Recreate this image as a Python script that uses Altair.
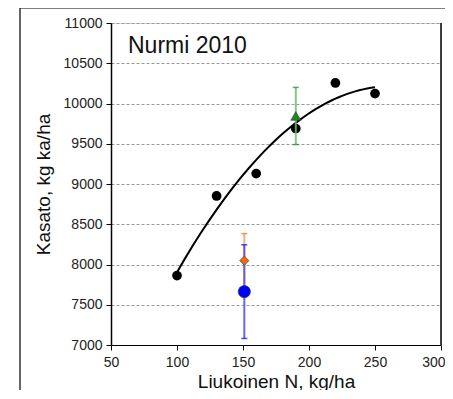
import altair as alt
import pandas as pd

# Main series (black dots)
n_rates = [100, 130, 160, 190, 220, 250]
yields = [7862, 8851, 9129, 9688, 10255, 10123]

# Single treatments with error bars
trt_names = ["green", "orange", "blue"]
trt_x = [190, 151, 151]
trt_y = [9845, 8048, 7663]
trt_err = [355, 336, 582]
trt_fill = ["#1a8a1a", "#f06a10", "#0000ff"]
trt_bar = ["#74bb74", "#f7a060", "#4a4aff"]
trt_shape = ["triangle-up", "diamond", "circle"]
trt_size = [100, 85, 150]

x_ticks = [50, 100, 150, 200, 250, 300]
y_ticks = [7000, 7500, 8000, 8500, 9000, 9500, 10000, 10500, 11000]

W, H = 330, 322

dots = pd.DataFrame({"x": n_rates, "y": yields})
trt = pd.DataFrame({
    "name": trt_names, "x": trt_x, "y": trt_y,
    "lo": [y - e for y, e in zip(trt_y, trt_err)],
    "hi": [y + e for y, e in zip(trt_y, trt_err)],
    "fill": trt_fill, "bar": trt_bar, "shape": trt_shape, "size": trt_size,
})

xs = alt.Scale(domain=[50, 300], nice=False, zero=False)
ys = alt.Scale(domain=[7000, 11000], nice=False, zero=False)

xenc = alt.X("x:Q", scale=xs, axis=alt.Axis(
    values=x_ticks, title="Liukoinen N, kg/ha", grid=False, format="d",
    labelFont="Liberation Sans", labelFontSize=14, labelColor="#222",
    labelAlign=alt.ExprRef(expr="datum.value >= 300 ? 'right' : 'center'"),
    labelOffset=alt.ExprRef(expr="datum.value >= 300 ? 4 : 0"),
    titleFont="Liberation Sans", titleFontSize=19, titleFontWeight="normal",
    titleColor="#111", titleBaseline="alphabetic", titleY=42, labelPadding=5,
    domainColor="#000", tickColor="#000", tickSize=5, labelFlush=False))
yenc = alt.Y("y:Q", scale=ys, axis=alt.Axis(
    values=y_ticks, title="Kasato, kg ka/ha", grid=True, format="d",
    gridColor="#999", gridDash=[3, 2], gridWidth=1,
    labelFont="Liberation Sans", labelFontSize=14, labelColor="#222",
    titleFont="Liberation Sans", titleFontSize=19, titleFontWeight="normal",
    titleColor="#111", titlePadding=10, labelPadding=4,
    domainColor="#000", domainWidth=1.5, tickColor="#000", tickSize=5))

base_dots = alt.Chart(dots)

curve = base_dots.transform_regression(
    "x", "y", method="poly", order=2, extent=[100, 250]
).mark_line(color="#000", strokeWidth=2).encode(x=xenc, y=yenc)

points = base_dots.mark_point(filled=True, color="#000", size=95, opacity=1).encode(
    x=alt.X("x:Q", scale=xs), y=alt.Y("y:Q", scale=ys))

tb = alt.Chart(trt)
bars = tb.mark_rule(strokeWidth=2, opacity=0.85).encode(
    x=alt.X("x:Q", scale=xs), y=alt.Y("lo:Q", scale=ys), y2="hi:Q",
    color=alt.Color("bar:N", scale=None))
caps_hi = tb.mark_tick(orient="horizontal", size=6, thickness=1.5).encode(
    x=alt.X("x:Q", scale=xs), y=alt.Y("hi:Q", scale=ys),
    color=alt.Color("fill:N", scale=None))
caps_lo = tb.mark_tick(orient="horizontal", size=6, thickness=1.5).encode(
    x=alt.X("x:Q", scale=xs), y=alt.Y("lo:Q", scale=ys),
    color=alt.Color("fill:N", scale=None))
markers = tb.mark_point(filled=True, opacity=1, stroke="#333", strokeWidth=0.6).encode(
    x=alt.X("x:Q", scale=xs), y=alt.Y("y:Q", scale=ys),
    fill=alt.Fill("fill:N", scale=None),
    shape=alt.Shape("shape:N", scale=None),
    size=alt.Size("size:Q", scale=None))

ann = alt.Chart(pd.DataFrame({"t": ["Nurmi 2010"]})).mark_text(
    font="Liberation Sans", fontSize=23, align="left", baseline="alphabetic",
    color="#111").encode(text="t:N", x=alt.value(17), y=alt.value(30))

right_border = alt.Chart(pd.DataFrame({"t": [0]})).mark_rule(
    color="#000", strokeWidth=1.5).encode(
    x=alt.value(W), y=alt.value(0), y2=alt.value(H))

frame_top = alt.Chart(pd.DataFrame({"t": [0]})).mark_rule(
    color="#000", strokeWidth=1.2).encode(
    x=alt.value(-91), x2=alt.value(345), y=alt.value(-15))
frame_left = alt.Chart(pd.DataFrame({"t": [0]})).mark_rule(
    color="#000", strokeWidth=1.2).encode(
    x=alt.value(-91), y=alt.value(-15), y2=alt.value(380))

chart = alt.layer(
    curve, points, bars, caps_hi, caps_lo, markers, ann,
    right_border, frame_top, frame_left
).properties(
    width=W, height=H,
    autosize=alt.AutoSizeParams(type="none"),
    padding={"left": 103, "top": 15, "right": 4, "bottom": 45},
).configure_view(stroke=None).configure(background="#ffffff")

chart.save("out.html", embed_options={"renderer": "svg", "actions": False})
